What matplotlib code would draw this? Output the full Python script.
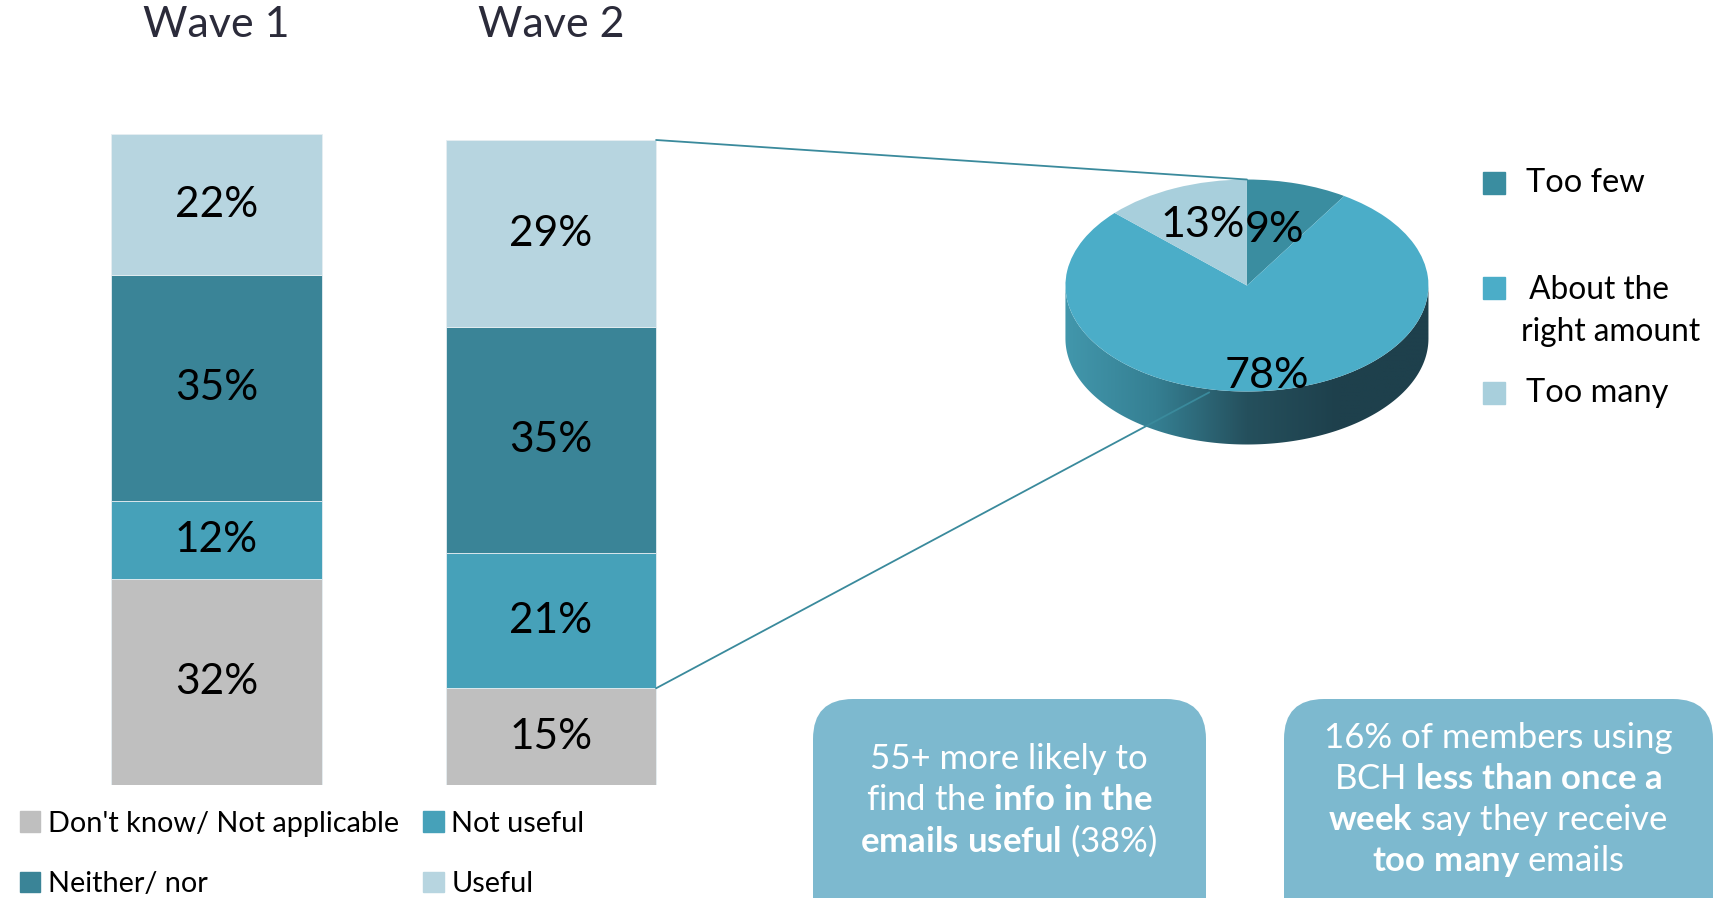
import numpy as np
import matplotlib
matplotlib.use("Agg")
import matplotlib.pyplot as plt
from matplotlib.patches import Rectangle, FancyBboxPatch, Polygon, ConnectionPatch
from matplotlib.transforms import blended_transform_factory
from matplotlib.colors import LinearSegmentedColormap

plt.rcParams['font.family'] = ['Lato', 'DejaVu Sans']
plt.rcParams['mathtext.fontset'] = 'custom'
plt.rcParams['mathtext.rm'] = 'Lato'
plt.rcParams['mathtext.bf'] = 'Lato:bold'
plt.rcParams['mathtext.it'] = 'Lato:italic'

# ---------------- data ----------------
waves = ['Wave 1', 'Wave 2']
categories = ["Don't know/ Not applicable", 'Not useful', 'Neither/ nor', 'Useful']
dont_know = [32, 15]
not_useful = [12, 21]
neither = [35, 35]
useful = [22, 29]
bar_colors = ['#BFBFBF', '#46A1B9', '#3A8497', '#B7D5E0']

pie_labels = ['Too few', ' About the\nright amount', 'Too many']
pie_values = [9, 78, 13]
pie_colors = ['#3A8DA0', '#4BADC8', '#A8CFDC']

box1_lines = ['55+ more likely to',
              r'find the $\mathbf{info\ in\ the}$',
              r'$\mathbf{emails\ useful}$ (38%)']
box2_lines = ['16% of members using',
              r'BCH $\mathbf{less\ than\ once\ a}$',
              r'$\mathbf{week}$ say they receive',
              r'$\mathbf{too\ many}$ emails']

W, H = 1735, 898
fig = plt.figure(figsize=(W / 100, H / 100), dpi=100)

def fx(px):
    return px / W

def fy(py):
    return 1 - py / H

# ---------------- stacked bars ----------------
ax = fig.add_axes([0.0284, 0.1258, 0.3856, 0.7183 * 1.05])
ax.set_xlim(-0.5, 1.5)
ax.set_ylim(0, 105)
ax.axis('off')

x = np.arange(len(waves))
series = [dont_know, not_useful, neither, useful]
bottom = np.zeros(len(waves))
bw = 0.628
for vals, col in zip(series, bar_colors):
    vals = np.array(vals, dtype=float)
    ax.bar(x, vals, bw, bottom=bottom, color=col, edgecolor='#E6EEF2', linewidth=0.6)
    for xi, b, v in zip(x, bottom, vals):
        ax.text(xi, b + v / 2, f'{int(v)}%', ha='center', va='center',
                fontsize=30.5, color='black')
    bottom += vals

tr = blended_transform_factory(ax.transData, fig.transFigure)
for xi, name in zip(x, waves):
    ax.text(xi, fy(25), name, transform=tr, ha='center', va='center',
            fontsize=31, color='#2B2B3A')

handles = [Rectangle((0, 0), 1, 1, color=c) for c in bar_colors]
order = [0, 2, 1, 3]
fig.legend([handles[i] for i in order], [categories[i] for i in order],
           ncol=2, loc='upper left', bbox_to_anchor=(fx(8), fy(799)),
           frameon=False, fontsize=20.8, handlelength=0.72, handleheight=0.72,
           handletextpad=0.25, columnspacing=0.85, labelspacing=1.2,
           borderaxespad=0)

# ---------------- 3D-looking pie ----------------
pax = fig.add_axes([0.5827, 0.4696, 0.2720, 0.3659])
wedges, _ = pax.pie(pie_values, colors=pie_colors, startangle=90,
                    counterclock=False, radius=1.0,
                    wedgeprops=dict(linewidth=0, zorder=3))
pax.set_aspect('auto')
pax.axis('off')

# side wall: gradient clipped to the visible band under the top face
depth = 0.5
th = np.linspace(np.pi, 2 * np.pi, 200)
band = np.vstack([np.column_stack([np.cos(th), np.sin(th)]),
                  np.column_stack([np.cos(th[::-1]), np.sin(th[::-1]) - depth])])
side = Polygon(band, closed=True, facecolor='none', edgecolor='none')
pax.add_patch(side)
side_cmap = LinearSegmentedColormap.from_list(
    'side', ['#4297AC', '#357F92', '#25505D', '#1E404C', '#1E404C'])
grad = np.linspace(0, 1, 256).reshape(1, -1)
im = pax.imshow(grad, cmap=side_cmap, extent=[-1, 1, -1 - depth, 0.1],
                aspect='auto', zorder=2, interpolation='bilinear')
im.set_clip_path(side)
pax.set_xlim(-1.3, 1.3)
pax.set_ylim(-1.8, 1.3)

# pie percentage labels
label_dist = [0.55, 0.86, 0.62]
cum = np.cumsum([0] + pie_values)
for i, v in enumerate(pie_values):
    mid = 90 - 360 * (cum[i] + v / 2) / 100
    r = label_dist[i]
    pax.text(r * np.cos(np.radians(mid)), r * np.sin(np.radians(mid)), f'{v}%',
             ha='center', va='center', fontsize=31, color='black', zorder=5)

# pie legend
leg_y = [183, 288, 393]
for lab, col, yy in zip(pie_labels, pie_colors, leg_y):
    fig.patches.append(Rectangle((fx(1483), fy(yy + 11)), fx(22), 22 / H,
                                 transform=fig.transFigure, color=col))
    if '\n' in lab:
        fig.text(fx(1521), fy(yy - 13), lab, ha='left', va='top',
                 fontsize=22.8, color='black', linespacing=1.5)
    else:
        fig.text(fx(1526), fy(yy), lab, ha='left', va='center',
                 fontsize=23.4, color='black')

# leader lines from Wave 2 bar to pie
lc = '#3A8A9C'
con1 = ConnectionPatch(xyA=(1 + bw / 2, 100), coordsA=ax.transData,
                       xyB=(0, 1), coordsB=pax.transData, color=lc, linewidth=1.3, zorder=10)
ang = np.radians(258)
con2 = ConnectionPatch(xyA=(1 + bw / 2, dont_know[1]), coordsA=ax.transData,
                       xyB=(np.cos(ang), np.sin(ang) - 0.03), coordsB=pax.transData,
                       color=lc, linewidth=1.3, zorder=10)
fig.add_artist(con1)
fig.add_artist(con2)

# ---------------- callout boxes ----------------
box_col = '#7DB9CF'
boxes = [(813, 699, 393, box1_lines, 1009, 759),
         (1284, 699, 429, box2_lines, 1498, 738)]
for bx, by, bwid, lines, cx, y0 in boxes:
    fb = FancyBboxPatch((fx(bx + 35), fy(H + 60)), fx(bwid - 70), (H + 60 - by - 35) / H,
                        boxstyle='round,pad=0,rounding_size=0.04',
                        mutation_aspect=W / H,
                        transform=fig.transFigure, facecolor=box_col, edgecolor='none')
    fb.set_boxstyle('round', pad=35 / W, rounding_size=40 / W)
    fig.patches.append(fb)
    for k, line in enumerate(lines):
        fig.text(fx(cx), fy(y0 + 41 * k), line, ha='center', va='center',
                 fontsize=25, color='white')

fig.savefig('out.png', dpi=100)
